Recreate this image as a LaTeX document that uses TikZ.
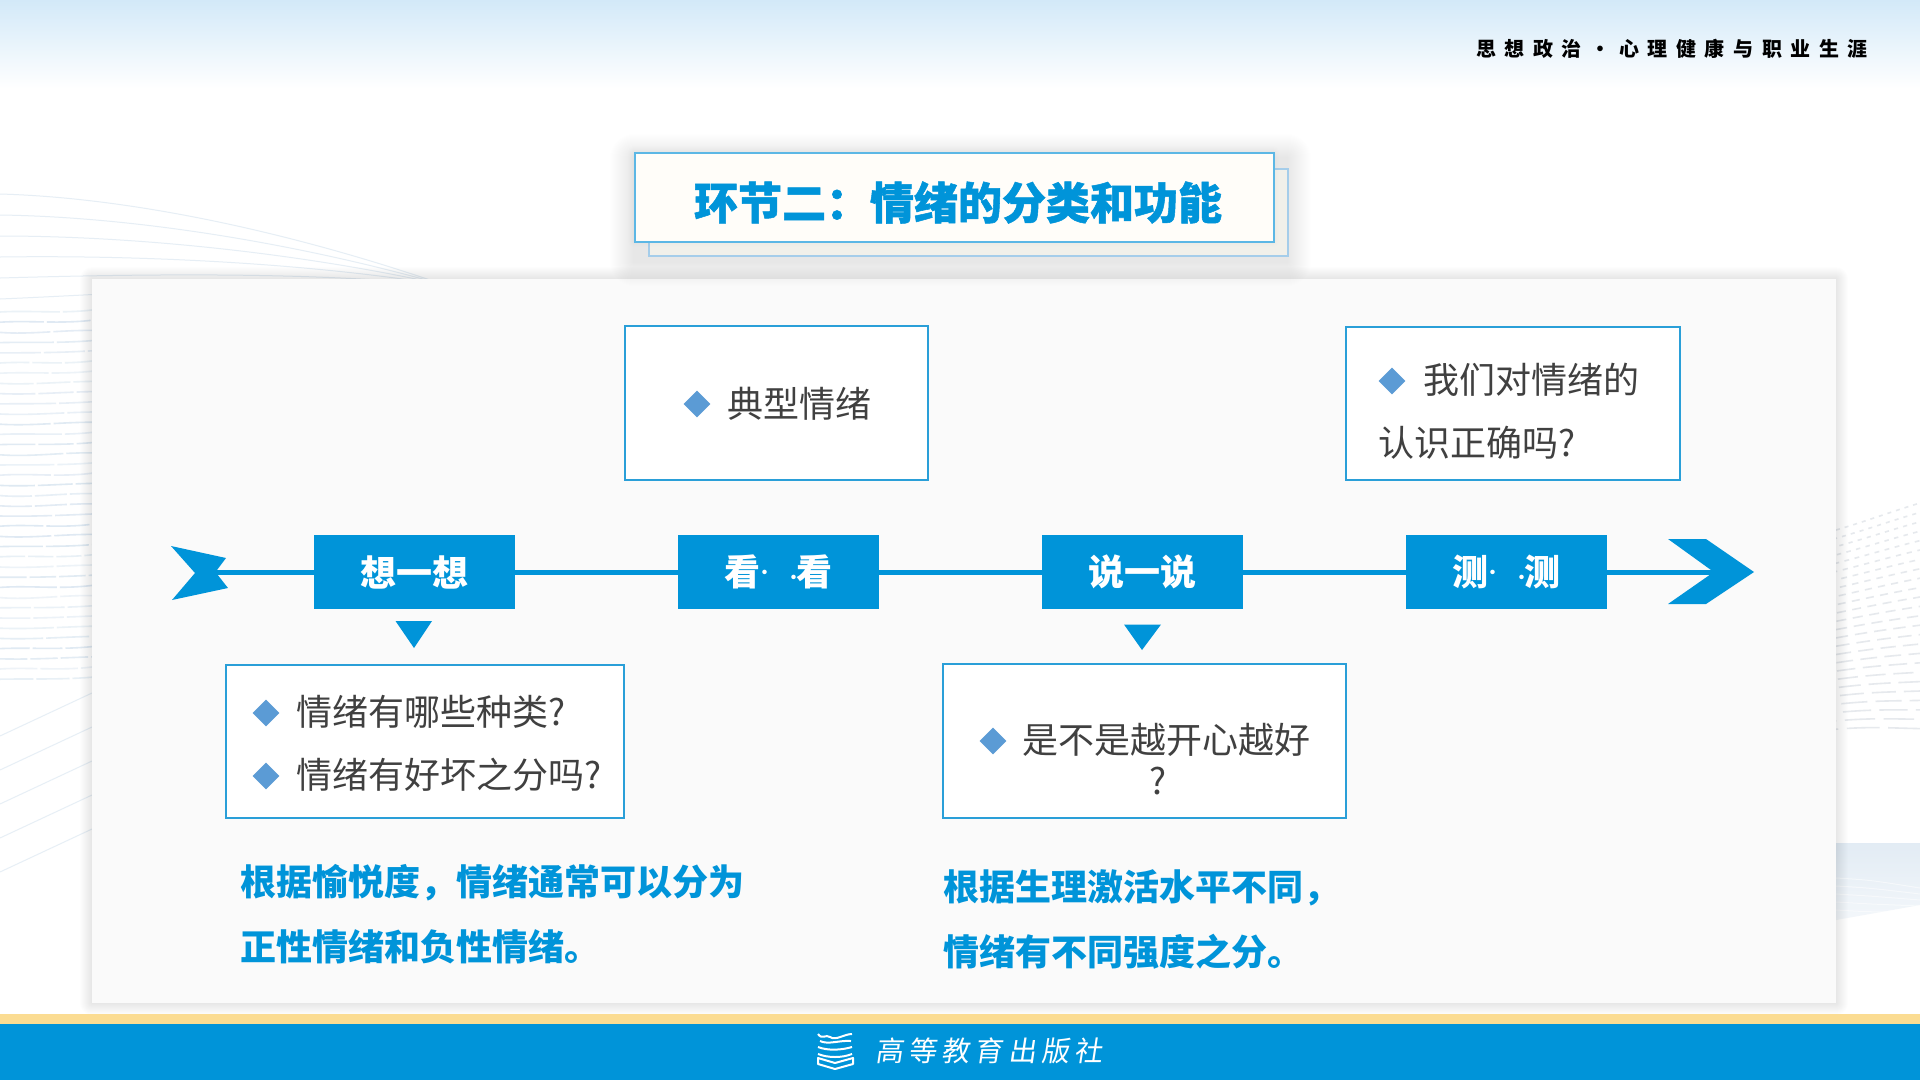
\documentclass[tikz,border=0pt]{standalone}
\usepackage{fontspec}
\setmainfont{Noto Sans CJK SC}
\usetikzlibrary{shapes.geometric}
\newfontfamily\slantfont[FakeSlant=0.15,LetterSpace=18]{Noto Sans CJK SC}
\newfontfamily\headfont[LetterSpace=43]{Noto Sans CJK SC}
\newfontfamily\heavyfont[BoldFeatures={FakeBold=1.2}]{Noto Sans CJK SC}
\definecolor{mainblue}{HTML}{0094D9}
\definecolor{boxline}{HTML}{2A9FD8}
\definecolor{bullet}{HTML}{5B9BD5}
\definecolor{bodytext}{HTML}{404040}
\definecolor{wave}{HTML}{DDE8F2}
\definecolor{dots}{HTML}{E6E9ED}
\definecolor{sky}{HTML}{D3E9F8}
\definecolor{stripe}{HTML}{FBDC92}
\definecolor{backfill}{HTML}{F1F0EA}
\definecolor{frontfill}{HTML}{FFFDF9}
\definecolor{backline}{HTML}{A5CDEA}
\definecolor{frontline}{HTML}{5CB7E5}
\definecolor{panelfill}{HTML}{FAFAFA}
\newcommand{\gapmarks}{\hbox to 36pt{\kern4pt\raisebox{7pt}{\fontsize{16}{16}\selectfont\makebox[0pt]{·}}\hfil\raisebox{2pt}{\fontsize{16}{16}\selectfont\makebox[0pt]{·}}\kern3pt}}
% soft shadow: x1 y1 x2 y2 spread opacity-per-layer
\newcommand{\softshadow}[6]{\foreach \s in {1,...,#5}{\fill[black,opacity=#6,rounded corners=\s pt] ({#1-\s},{#2-\s}) rectangle ({#3+\s},{#4+\s});}}
\tikzset{
  x=1pt,y=-1pt,
  stagebox/.style={fill=mainblue,draw=none,minimum width=201pt,minimum height=74pt,inner sep=0pt,text=white,font=\fontsize{36}{36}\selectfont\bfseries},
  infobox/.style={fill=white,draw=boxline,line width=2pt,inner sep=0pt},
  body/.style={anchor=west,inner sep=0pt,text=bodytext,font=\fontsize{36}{36}\selectfont},
  answer/.style={anchor=west,inner sep=0pt,text=mainblue,font=\fontsize{36}{36}\selectfont\bfseries},
  bulletmark/.style={diamond,aspect=1,fill=bullet,inner sep=0pt,minimum width=27pt,minimum height=27pt},
  waveline/.style={draw=wave,line width=1pt}
}
\begin{document}
\begin{tikzpicture}
\useasboundingbox (0,0) rectangle (1920,1080);
% background
\fill[white] (0,0) rectangle (1920,1080);
\shade[top color=sky, bottom color=white] (0,0) rectangle (1920,88);
% left top curves
\foreach \i in {0,...,5}{
  \draw[waveline,draw=wave!75!white] (0,{194+21*\i}) .. controls (140,{198+19*\i}) and (300,{236+9*\i}) .. (430,{280+1*\i});
}
% left middle lines
\pgfmathsetseed{7}
\foreach \i in {0,...,36}{
  \pgfmathsetmacro{\da}{rnd*40+25}
  \pgfmathsetmacro{\wob}{rnd*5-2.5}
  \pgfmathsetmacro{\tone}{rnd*50+50}
  \draw[draw=wave!\tone!white,line width=1.6pt,dash pattern=on \da pt off 3pt] (0,{312+\i*10.2}) .. controls (30,{312+\i*10.2+\wob}) and (60,{312+\i*10.2-\wob}) .. (92,{310+\i*10.2});
}
% left bottom lines
\foreach \i in {0,...,4}{
  \draw[waveline,draw=wave!70!white] (0,{736+\i*34}) -- (92,{693+\i*34});
}
% right dotted field
\foreach \i in {0,...,24}{
  \pgfmathsetmacro{\on}{4+\i*\i*0.05}
  \pgfmathsetmacro{\off}{5+\i*0.15}
  \pgfmathsetmacro{\ph}{\i*3}
  \draw[draw=dots,line width=1.6pt,dash pattern=on \on pt off \off pt,dash phase=\ph pt] (1836,{530+\i*8.3}) .. controls (1870,{520+\i*8.6}) and (1890,{512+\i*9}) .. (1920,{503+\i*9.4});
}
% right band
\shade[top color=wave!85!white,bottom color=wave!35!white] (1836,843) -- (1920,843) -- (1920,905) -- (1836,920) -- cycle;
\foreach \i in {0,...,4}{\draw[white,opacity=.5,line width=1pt] (1836,{878+\i*8}) .. controls (1870,{880+\i*8}) .. (1920,{888+\i*6});}
% panel
\softshadow{92}{279}{1836}{1003}{12}{0.006}
\node[fill=panelfill,minimum width=1744pt,minimum height=724pt,inner sep=0pt,anchor=north west] (panel) at (92,279) {};
% title
\softshadow{634}{158}{1287}{262}{24}{0.0035}
\node[fill=backfill,draw=backline,line width=2pt,minimum width=639pt,minimum height=87pt,inner sep=0pt,anchor=north west] (titleback) at (648,168) {};
\softshadow{634}{152}{1273}{241}{6}{0.004}
\node[fill=frontfill,draw=frontline,line width=2.4pt,minimum width=639pt,minimum height=89pt,inner sep=0pt,anchor=north west] (title) at (634,152) {};
\node[inner sep=0pt,text=mainblue,font=\fontsize{44}{44}\selectfont\heavyfont\bfseries] (titletext) at (958,202.5) {环节二：情绪的分类和功能};
% header
\node[inner sep=0pt,text=black,font=\fontsize{20}{20}\selectfont\bfseries\headfont] (header) at (1672,49) {思想政治·心理健康与职业生涯};
% timeline
\coordinate (tailend) at (217,572);
\coordinate (headend) at (1712,572);
\node[stagebox] (s1) at (414.5,572) {想一想};
\node[stagebox] (s2) at (778.5,572) {看\gapmarks 看};
\node[stagebox] (s3) at (1142.5,572) {说一说};
\node[stagebox] (s4) at (1506.5,572) {测\gapmarks 测};
\draw[mainblue,line width=5pt] (tailend) -- (s1) (s1) -- (s2) (s2) -- (s3) (s3) -- (s4) (s4) -- (headend);
\fill[mainblue] (171,546) -- (226,558) -- (217,570) -- (217,574) -- (228,588) -- (172,600) -- (195,573) -- cycle;
\fill[mainblue] (1668,539) -- (1706,539) -- (1754,572) -- (1706,604) -- (1668,604) -- (1711,574) -- (1711,570) -- cycle;
\fill[mainblue] (395.5,621) -- (432,621) -- (414,648) -- cycle;
\fill[mainblue] (1124,624.5) -- (1161,624.5) -- (1142,650) -- cycle;
% boxes
\draw[infobox] (625,326) rectangle (928,480);
\node[bulletmark] (b1) at (697,404) {};
\node[body] (t1) at (727,404) {典型情绪};
\draw[infobox] (1346,327) rectangle (1680,480);
\node[bulletmark] (b2) at (1392,381) {};
\node[body] (t2a) at (1423,380) {我们对情绪的};
\node[body] (t2b) at (1378,443) {认识正确吗?};
\draw[infobox] (226,665) rectangle (624,818);
\node[bulletmark] (b3) at (266,713) {};
\node[body] (t3a) at (296,712) {情绪有哪些种类?};
\node[bulletmark] (b4) at (266,776) {};
\node[body] (t3b) at (296,775) {情绪有好坏之分吗?};
\draw[infobox] (943,664) rectangle (1346,818);
\node[bulletmark] (b5) at (993,741) {};
\node[body] (t4a) at (1022,740) {是不是越开心越好};
\node[body,anchor=center] (t4b) at (1158,781) {?};
% answers
\node[answer] (a1) at (240,883) {根据愉悦度，情绪通常可以分为};
\node[answer] (a2) at (240,947) {正性情绪和负性情绪。};
\node[answer] (a3) at (943,888) {根据生理激活水平不同，};
\node[answer] (a4) at (943,952) {情绪有不同强度之分。};
% footer
\fill[stripe] (0,1014) rectangle (1920,1024);
\fill[mainblue] (0,1024) rectangle (1920,1080);
% logo
\begin{scope}[draw=white,line width=2pt,line join=round]
\draw (818,1034) .. controls (822,1040) and (826,1034) .. (830,1037) .. controls (836,1041) and (844,1034) .. (852,1034);
\draw (820,1041) .. controls (828,1045) and (840,1040) .. (851,1041);
\draw (818,1047) .. controls (828,1051) and (842,1050) .. (852,1047);
\draw (818,1054) .. controls (828,1058) and (842,1058) .. (852,1054);
\draw (818,1058) -- (818,1064) -- (835,1069) -- (853,1064) -- (853,1058) -- (835,1063) -- cycle;
\end{scope}
\node[inner sep=0pt,text=white,font=\fontsize{28}{28}\selectfont\slantfont] (press) at (989,1051) {高等教育出版社};
\end{tikzpicture}
\end{document}
